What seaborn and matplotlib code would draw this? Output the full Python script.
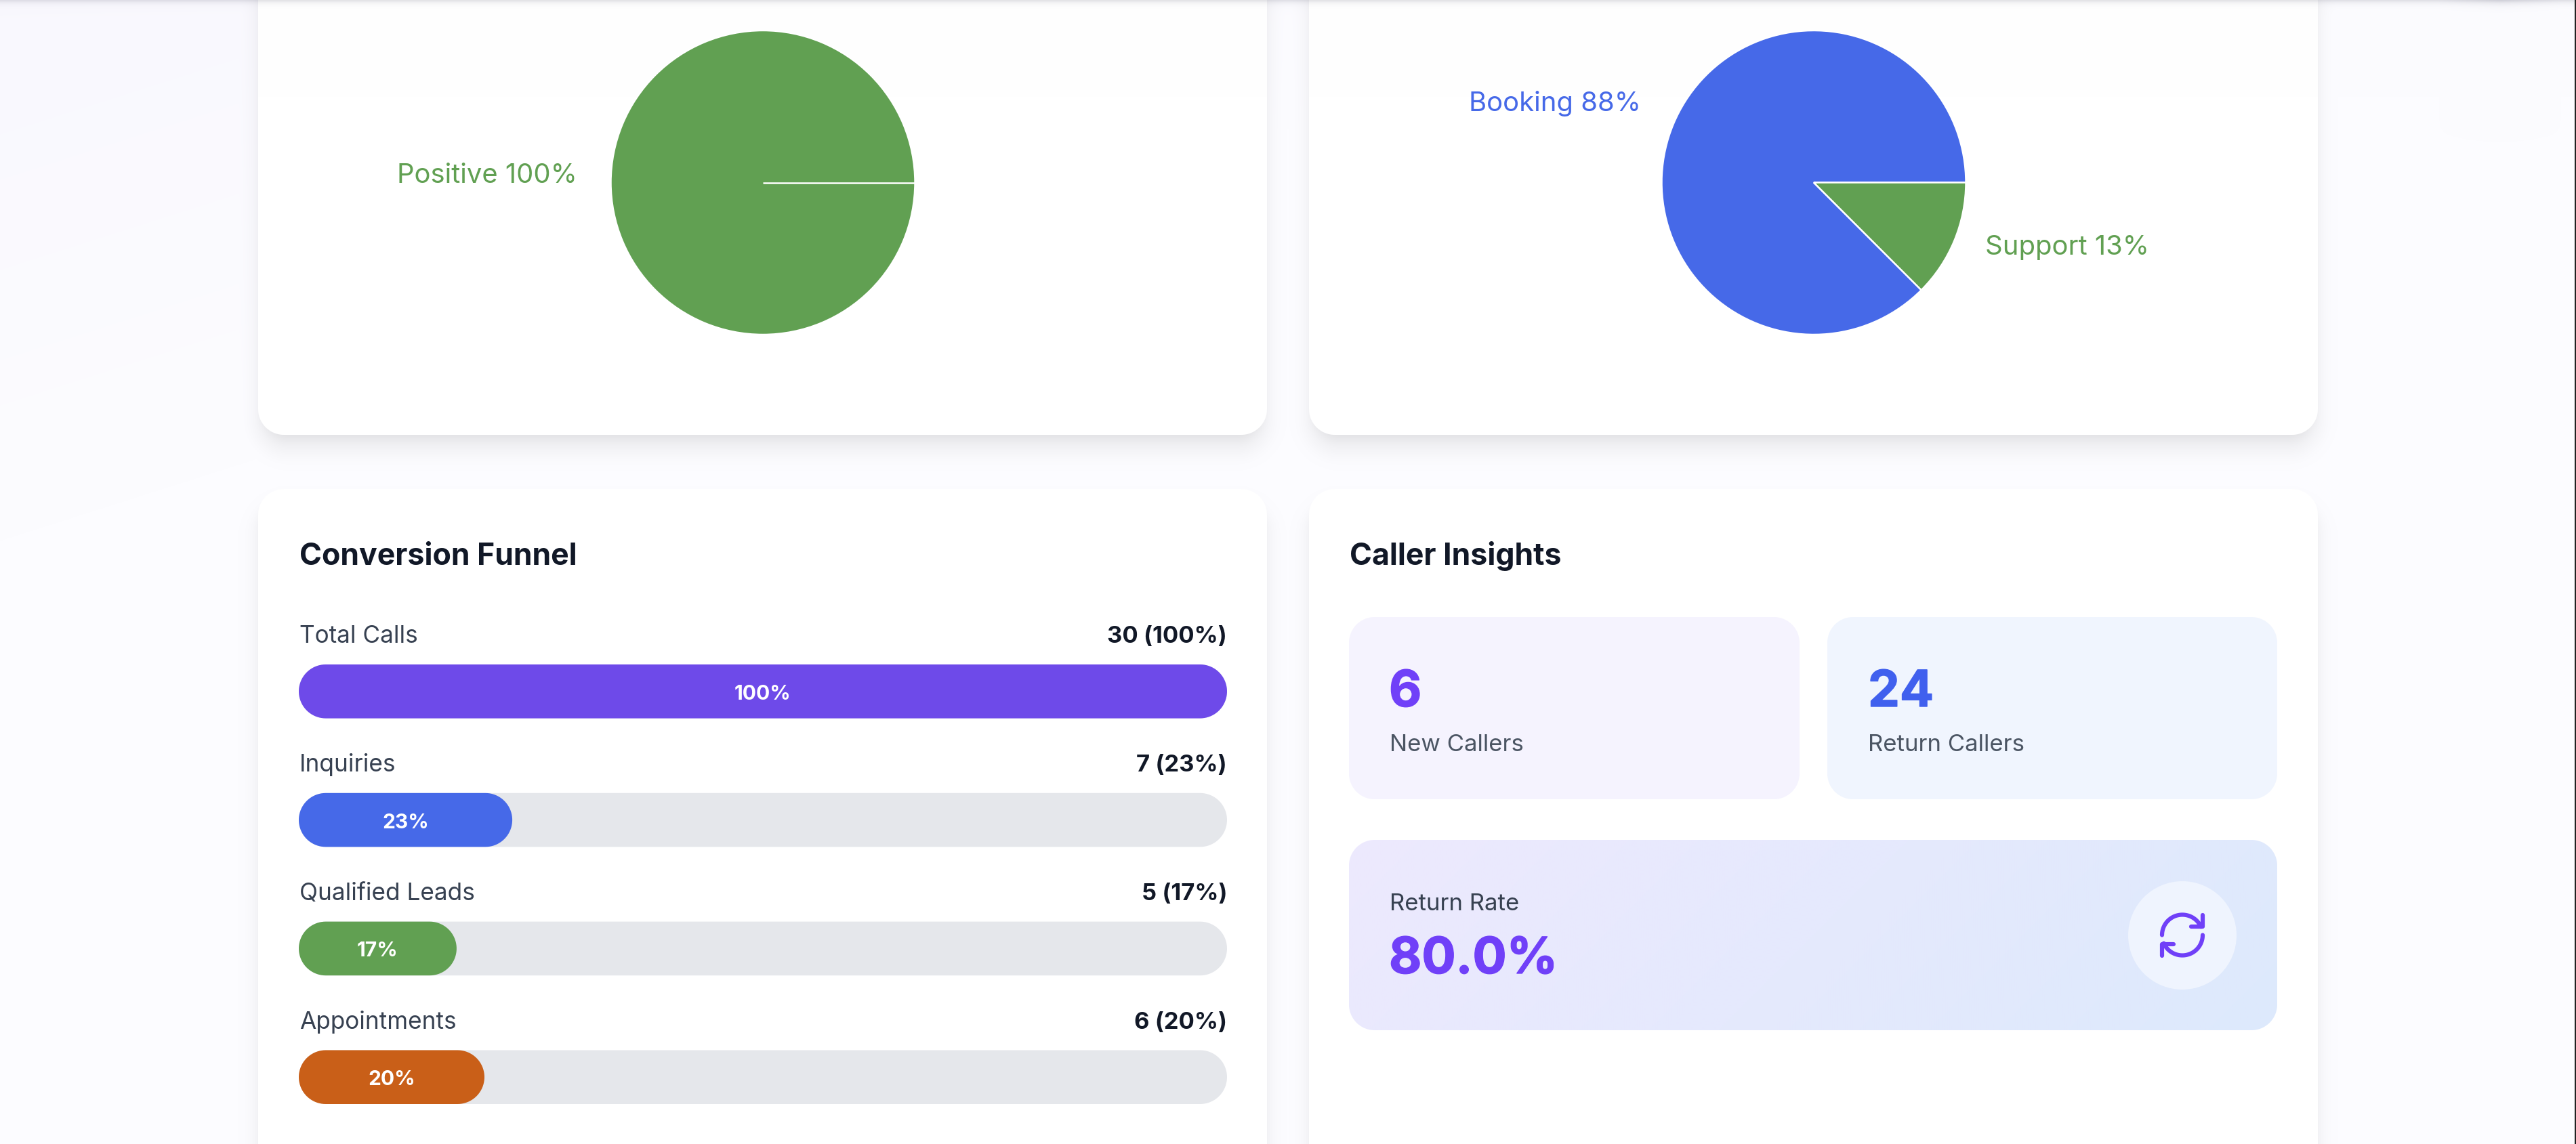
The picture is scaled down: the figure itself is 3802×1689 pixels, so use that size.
import numpy as np
import pandas as pd
import matplotlib
matplotlib.use("Agg")
import matplotlib.pyplot as plt
import matplotlib.patheffects as pe
from matplotlib.patches import Polygon, Circle
from matplotlib.transforms import IdentityTransform
import seaborn as sns

W, H = 3802, 1690

# data
sentiment_labels = ["Positive"]
sentiment_values = [100]
sentiment_shown = ["100%"]
intent_labels = ["Booking", "Support"]
intent_values = [87.5, 12.5]
intent_shown = ["88%", "13%"]
funnel_stages = ["Total Calls", "Inquiries", "Qualified Leads", "Appointments"]
funnel_counts = [30, 7, 5, 6]
funnel_pct = [100, 23, 17, 20]
new_callers = 6
return_callers = 24
return_rate = 80.0

GREEN = "#61A052"
BLUE = "#4669E8"
PURPLE = "#6E4AE9"
ORANGE = "#C95F18"
TRACK = "#E5E7EB"
INK = "#111827"
LABEL = "#374151"
MUTED = "#4B5563"
STAT_PURPLE = "#7040F8"
STAT_BLUE = "#4060EE"

sns.set_theme(style="white")
plt.rcParams["font.family"] = ["Inter", "DejaVu Sans"]

X, Y = np.meshgrid(np.arange(W) + 0.5, np.arange(H) + 0.5)


def sdf(x0, y0, x1, y1, r):
    qx = np.abs(X - (x0 + x1) / 2) - (x1 - x0) / 2 + r
    qy = np.abs(Y - (y0 + y1) / 2) - (y1 - y0) / 2 + r
    return np.hypot(np.maximum(qx, 0), np.maximum(qy, 0)) + np.minimum(np.maximum(qx, qy), 0) - r


def blend(img, alpha, color):
    color = np.asarray(color, dtype=float)
    img[:] = img * (1 - alpha[..., None]) + color * alpha[..., None]


def rgb(h):
    return np.array(matplotlib.colors.to_rgb(h))


def shadow(img, box, dy, spread, sigma, a):
    x0, y0, x1, y1 = box
    d = sdf(x0 - spread, y0 - spread + dy, x1 + spread, y1 + spread + dy, 38)
    s = np.clip((2 * sigma - d) / (4 * sigma), 0, 1)
    blend(img, a * s * s * (3 - 2 * s), np.zeros(3))


def paint(img, box, r, color):
    a = np.clip(0.5 - sdf(*box, r), 0, 1)
    blend(img, a, color)


# page background, cards and soft shadows
t = np.clip(X / 2500 + Y / 800, 0, 1)[..., None]
img = rgb("#F9F8FE") * (1 - t) + rgb("#FCFCFF") * t
cards = [(381, -300, 1870, 643), (1932, -300, 3421, 643), (381, 723, 1870, 2000), (1932, 723, 3421, 2000)]
for box in cards:
    shadow(img, box, 24, -7, 18, 0.085)
    shadow(img, box, 10, -5, 7, 0.035)
for box in cards:
    paint(img, box, 38, rgb("#FFFFFF"))
paint(img, (1991, 912, 2656, 1181), 38, rgb("#F5F3FE"))
paint(img, (2697, 912, 3361, 1181), 38, rgb("#F0F5FE"))
g = np.clip(((X - 1991) / 1370 * 0.83 + (Y - 1241) / 281 * 0.17), 0, 1)[..., None]
rate_fill = rgb("#EDE9FE") * (1 - g) + rgb("#DDE9FC") * g
a = np.clip(0.5 - sdf(1991, 1241, 3361, 1522, 38), 0, 1)[..., None]
img = img * (1 - a) + rate_fill * a

# header shadow along the top edge
strip = 0.14 * np.exp(-np.maximum(Y - 2, 0) / 4.0)
blob = 0.08 * np.exp(-np.maximum(Y - 2, 0) / 6.0) * np.clip(1 - np.abs(X - 3690) / 90, 0, 1)
blend(img, np.minimum(strip + blob, 1), rgb("#3A3A55"))
img[:, 3800:] = rgb("#222222")

fig = plt.figure(figsize=(W / 100, H / 100), dpi=100)
ax = fig.add_axes([0, 0, 1, 1])
ax.imshow(img, extent=(0, W, H, 0), interpolation="nearest", aspect="auto")
ax.set_xlim(0, W)
ax.set_ylim(H, 0)
ax.axis("off")


def px_axes(x0, y0, x1, y1):
    return fig.add_axes([x0 / W, 1 - y1 / H, (x1 - x0) / W, (y1 - y0) / H])


def txt(x, y, s, size, color, weight="normal", ha="left", thicken=0):
    t = ax.text(x, y, s, fontsize=size * 0.72, color=color, fontweight=weight, ha=ha, va="baseline")
    if thicken:
        t.set_path_effects([pe.withStroke(linewidth=thicken, foreground=color)])


def pill(x0, y0, x1, y1):
    r = (y1 - y0) / 2
    th = np.linspace(-np.pi / 2, np.pi / 2, 40)
    right = np.column_stack([x1 - r + r * np.cos(th), (y0 + y1) / 2 + r * np.sin(th)])
    left = np.column_stack([x0 + r - r * np.cos(th[::-1]), (y0 + y1) / 2 + r * np.sin(th[::-1])])
    return np.vstack([right, left])


# pies
for cx, values, colors in [(1126, sentiment_values, [GREEN]), (2677, intent_values, [BLUE, GREEN])]:
    pie_ax = px_axes(cx - 224.5, 46, cx + 224.5, 495)
    pie_ax.pie(values, colors=colors, startangle=0, radius=1,
               wedgeprops=dict(edgecolor="white", linewidth=1.8))
    if len(values) == 1:
        # a full slice still shows its seam
        pie_ax.plot([0, 1], [0, 0], color="white", lw=1.8, solid_capstyle="butt")
    pie_ax.set_xlim(-1, 1)
    pie_ax.set_ylim(-1, 1)

txt(586, 270, f"{sentiment_labels[0]} {sentiment_shown[0]}", 40, GREEN)
txt(2168, 164, f"{intent_labels[0]} {intent_shown[0]}", 40, BLUE)
txt(2930, 376, f"{intent_labels[1]} {intent_shown[1]}", 40, GREEN)

# funnel
df = pd.DataFrame({"stage": funnel_stages, "pct": funnel_pct, "track": [100] * len(funnel_pct)})
bar_ax = px_axes(441, 982, 1811, 1631)
bar_ax.patch.set_alpha(0)
sns.barplot(data=df, y="stage", x="track", color=TRACK, saturation=1, width=0.419, ax=bar_ax)
sns.barplot(data=df, y="stage", x="pct", hue="stage", dodge=False, legend=False, saturation=1,
            palette=[PURPLE, BLUE, GREEN, ORANGE], width=0.419, ax=bar_ax)
bar_ax.set_xlim(0, 100)
bar_ax.set_ylim(3 + 0.2095, -0.2095)
bar_ax.axis("off")

for p in list(bar_ax.patches):
    (x0, y0), (x1, y1) = bar_ax.transData.transform([(p.get_x(), p.get_y()), (p.get_x() + p.get_width(), p.get_y() + p.get_height())])
    x0, x1 = sorted((x0, x1))
    y0, y1 = sorted((y0, y1))
    if x1 - x0 < 1:
        continue
    bar_ax.add_patch(Polygon(pill(x0, y0, x1, y1), closed=True, facecolor=p.get_facecolor(), edgecolor="none",
                             transform=IdentityTransform(), zorder=p.get_zorder()))
    p.set_visible(False)

for i, (stage, n, pct) in enumerate(zip(funnel_stages, funnel_counts, funnel_pct)):
    bar_ax.annotate(stage, (0, i), xytext=(1, 72.5), textcoords="offset pixels", fontsize=35.2 * 0.72,
                    color=LABEL, va="baseline", annotation_clip=False)
    bar_ax.annotate(f"{n} ({pct}%)", (100, i), xytext=(0, 72.5), textcoords="offset pixels", fontsize=34.6 * 0.72,
                    color=INK, fontweight="bold", ha="right", va="baseline", annotation_clip=False)
    bar_ax.text(pct / 2, i, f"{pct}%", fontsize=30 * 0.72, color="white", fontweight="bold",
                ha="center", va="center_baseline")

# titles
txt(442, 834, "Conversion Funnel", 44.6, INK, "bold")
txt(1992, 834, "Caller Insights", 44.6, INK, "bold")

# caller insights
txt(2050, 1044, str(new_callers), 74.4, STAT_PURPLE, "bold", thicken=1)
txt(2757, 1044, str(return_callers), 74.4, STAT_BLUE, "bold", thicken=1)
txt(2051, 1109, "New Callers", 34.8, MUTED)
txt(2757, 1109, "Return Callers", 34.8, MUTED)
txt(2051, 1344, "Return Rate", 34.8, LABEL)
txt(2050, 1438, f"{return_rate:.1f}%", 74.4, STAT_PURPLE, "bold", thicken=1)

# refresh icon
ax.add_patch(Circle((3221, 1382), 80, facecolor="#EFF4FE", edgecolor="none"))
ix, iy = 3221, 1381.5
lw = 6.2 * 0.72
line = dict(color=STAT_PURPLE, lw=lw, solid_capstyle="round", solid_joinstyle="round")
th = np.radians(np.linspace(180, 24, 40))
ax.plot(ix + 30 * np.cos(th), iy - 30 * np.sin(th), **line)
ax.plot([3080 + 513 / 3, 3080 + 513 / 3, 3080 + 462 / 3], [1270 + 245 / 3, 1270 + 296 / 3, 1270 + 296 / 3], **line)
th = np.radians(np.linspace(0, -156, 40))
ax.plot(ix + 30 * np.cos(th), iy - 30 * np.sin(th), **line)
ax.plot([3080 + 333 / 3, 3080 + 333 / 3, 3080 + 385 / 3], [1270 + 427 / 3, 1270 + 375 / 3, 1270 + 375 / 3], **line)

fig.savefig("out.png", dpi=100)
